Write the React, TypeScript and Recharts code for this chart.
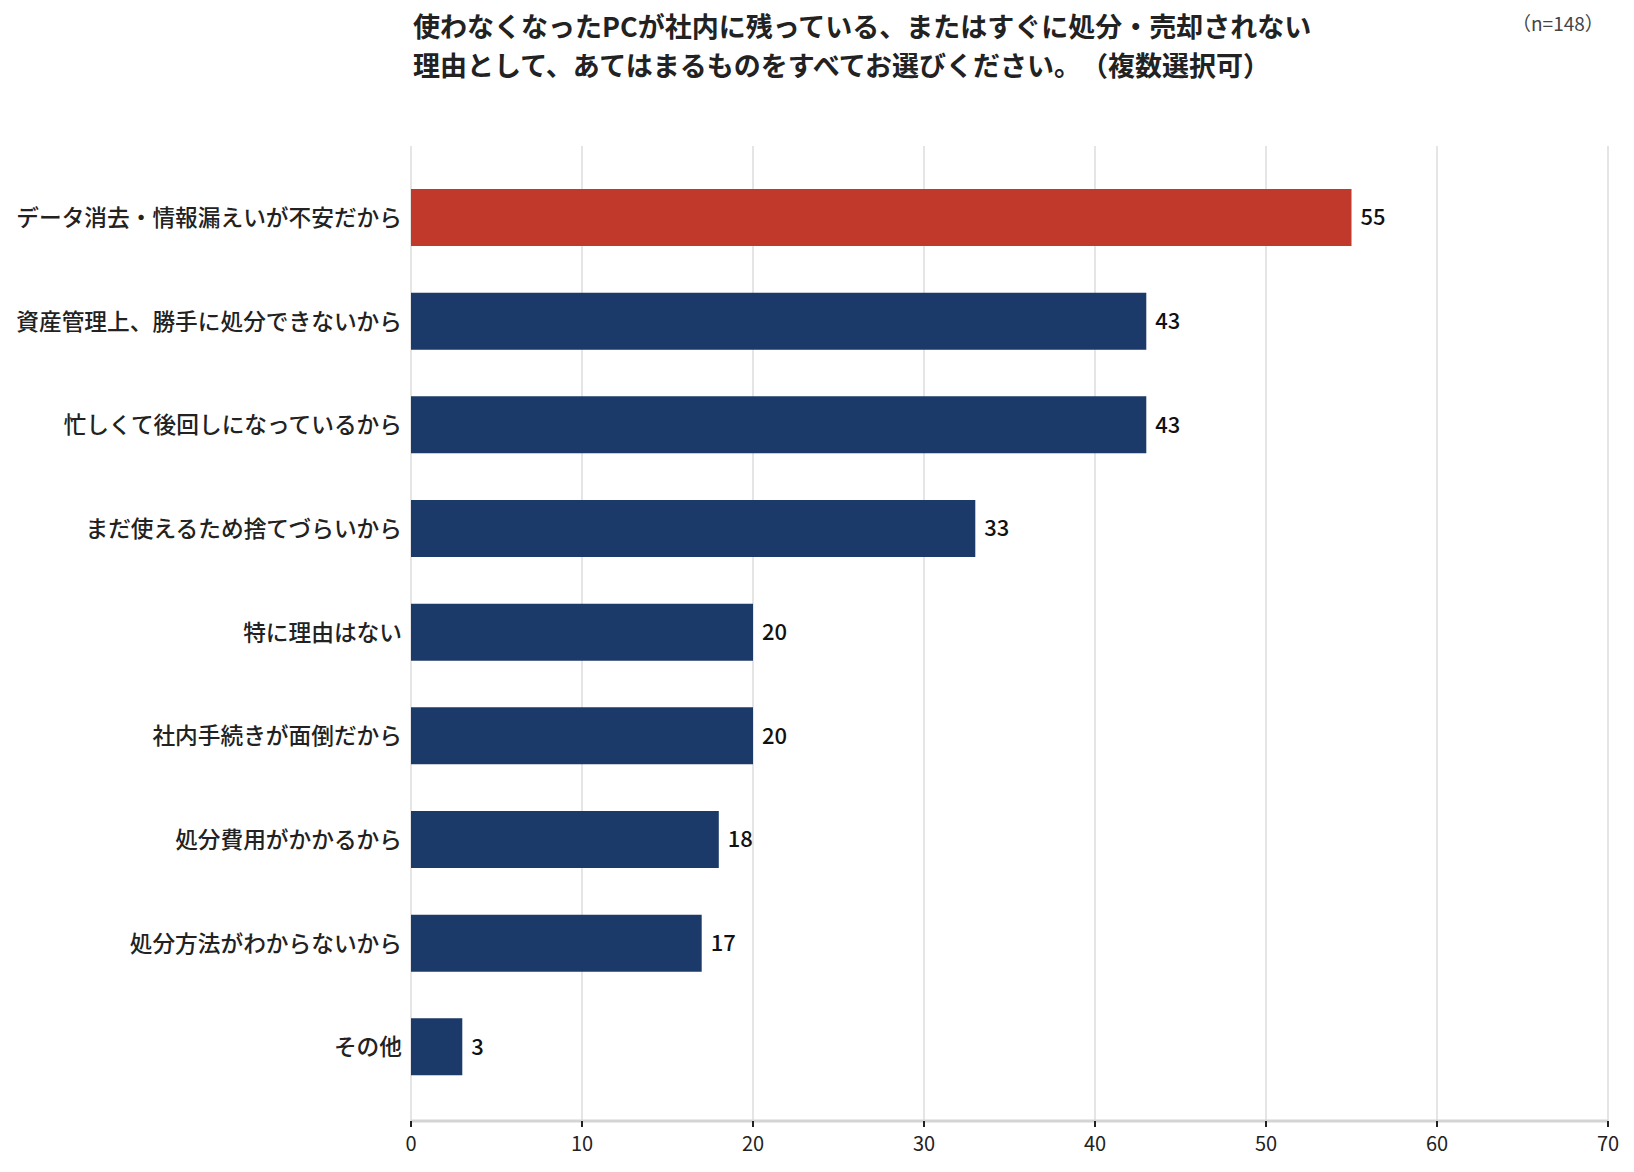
import { BarChart, Bar, XAxis, YAxis, CartesianGrid, Cell, LabelList } from 'recharts';

const FONT = "'Noto Sans CJK JP', 'Noto Sans', sans-serif";

const reasons = [
  'データ消去・情報漏えいが不安だから',
  '資産管理上、勝手に処分できないから',
  '忙しくて後回しになっているから',
  'まだ使えるため捨てづらいから',
  '特に理由はない',
  '社内手続きが面倒だから',
  '処分費用がかかるから',
  '処分方法がわからないから',
  'その他',
];

const counts = [55, 43, 43, 33, 20, 20, 18, 17, 3];

const xTicks = [0, 10, 20, 30, 40, 50, 60, 70];

const titleLines = [
  '使わなくなったPCが社内に残っている、またはすぐに処分・売却されない',
  '理由として、あてはまるものをすべてお選びください。（複数選択可）',
];

const sampleNote = '（n=148）';

const RED = '#c0392b';
const NAVY = '#1c3a69';

export default function App() {
  const chartData = reasons.map((name, i) => ({ name, value: counts[i] }));

  return (
    <div
      style={{
        position: 'absolute',
        top: 0,
        left: 0,
        width: 1634,
        height: 1172,
        background: '#fff',
        fontFamily: FONT,
        textSpacingTrim: 'space-all',
      } as React.CSSProperties}
    >
      <div
        style={{
          position: 'absolute',
          left: 413,
          top: 6,
          fontSize: 27,
          fontWeight: 700,
          lineHeight: '39px',
          color: '#222',
          whiteSpace: 'nowrap',
        }}
      >
        {titleLines.map((line) => (
          <div key={line}>{line}</div>
        ))}
      </div>
      <div
        style={{
          position: 'absolute',
          left: 1512,
          top: 9,
          fontSize: 19,
          color: '#444',
          whiteSpace: 'nowrap',
        }}
      >
        {sampleNote}
      </div>

      <div style={{ position: 'absolute', top: 0, left: 0 }}>
        <BarChart
          width={1634}
          height={1172}
          data={chartData}
          layout="vertical"
          margin={{ top: 146, right: 26, bottom: 0, left: 0 }}
        >
          <CartesianGrid horizontal={false} stroke="#dddddd" strokeWidth={1.5} />
          <XAxis
            type="number"
            domain={[0, 70]}
            ticks={xTicks}
            height={51}
            axisLine={{ stroke: '#d4d4d4', strokeWidth: 3 }}
            tickLine={{ stroke: '#222', strokeWidth: 2 }}
            tickSize={6}
            tickMargin={10}
            tick={{ fontSize: 20, fill: '#222', fontFamily: FONT }}
          />
          <YAxis
            type="category"
            dataKey="name"
            width={411}
            axisLine={false}
            tickLine={false}
            tickMargin={3}
            padding={{ top: 20, bottom: 22 }}
            interval={0}
            tick={{ fontSize: 22.7, fill: '#222', fontFamily: FONT, fontWeight: 500 }}
          />
          <Bar dataKey="value" barSize={57} isAnimationActive={false}>
            {chartData.map((entry, index) => (
              <Cell key={`cell-${index}`} fill={index === 0 ? RED : NAVY} />
            ))}
            <LabelList
              dataKey="value"
              position="right"
              offset={9}
              style={{ fontSize: 22, fill: '#111', fontFamily: FONT, fontWeight: 500 }}
            />
          </Bar>
        </BarChart>
      </div>
    </div>
  );
}
